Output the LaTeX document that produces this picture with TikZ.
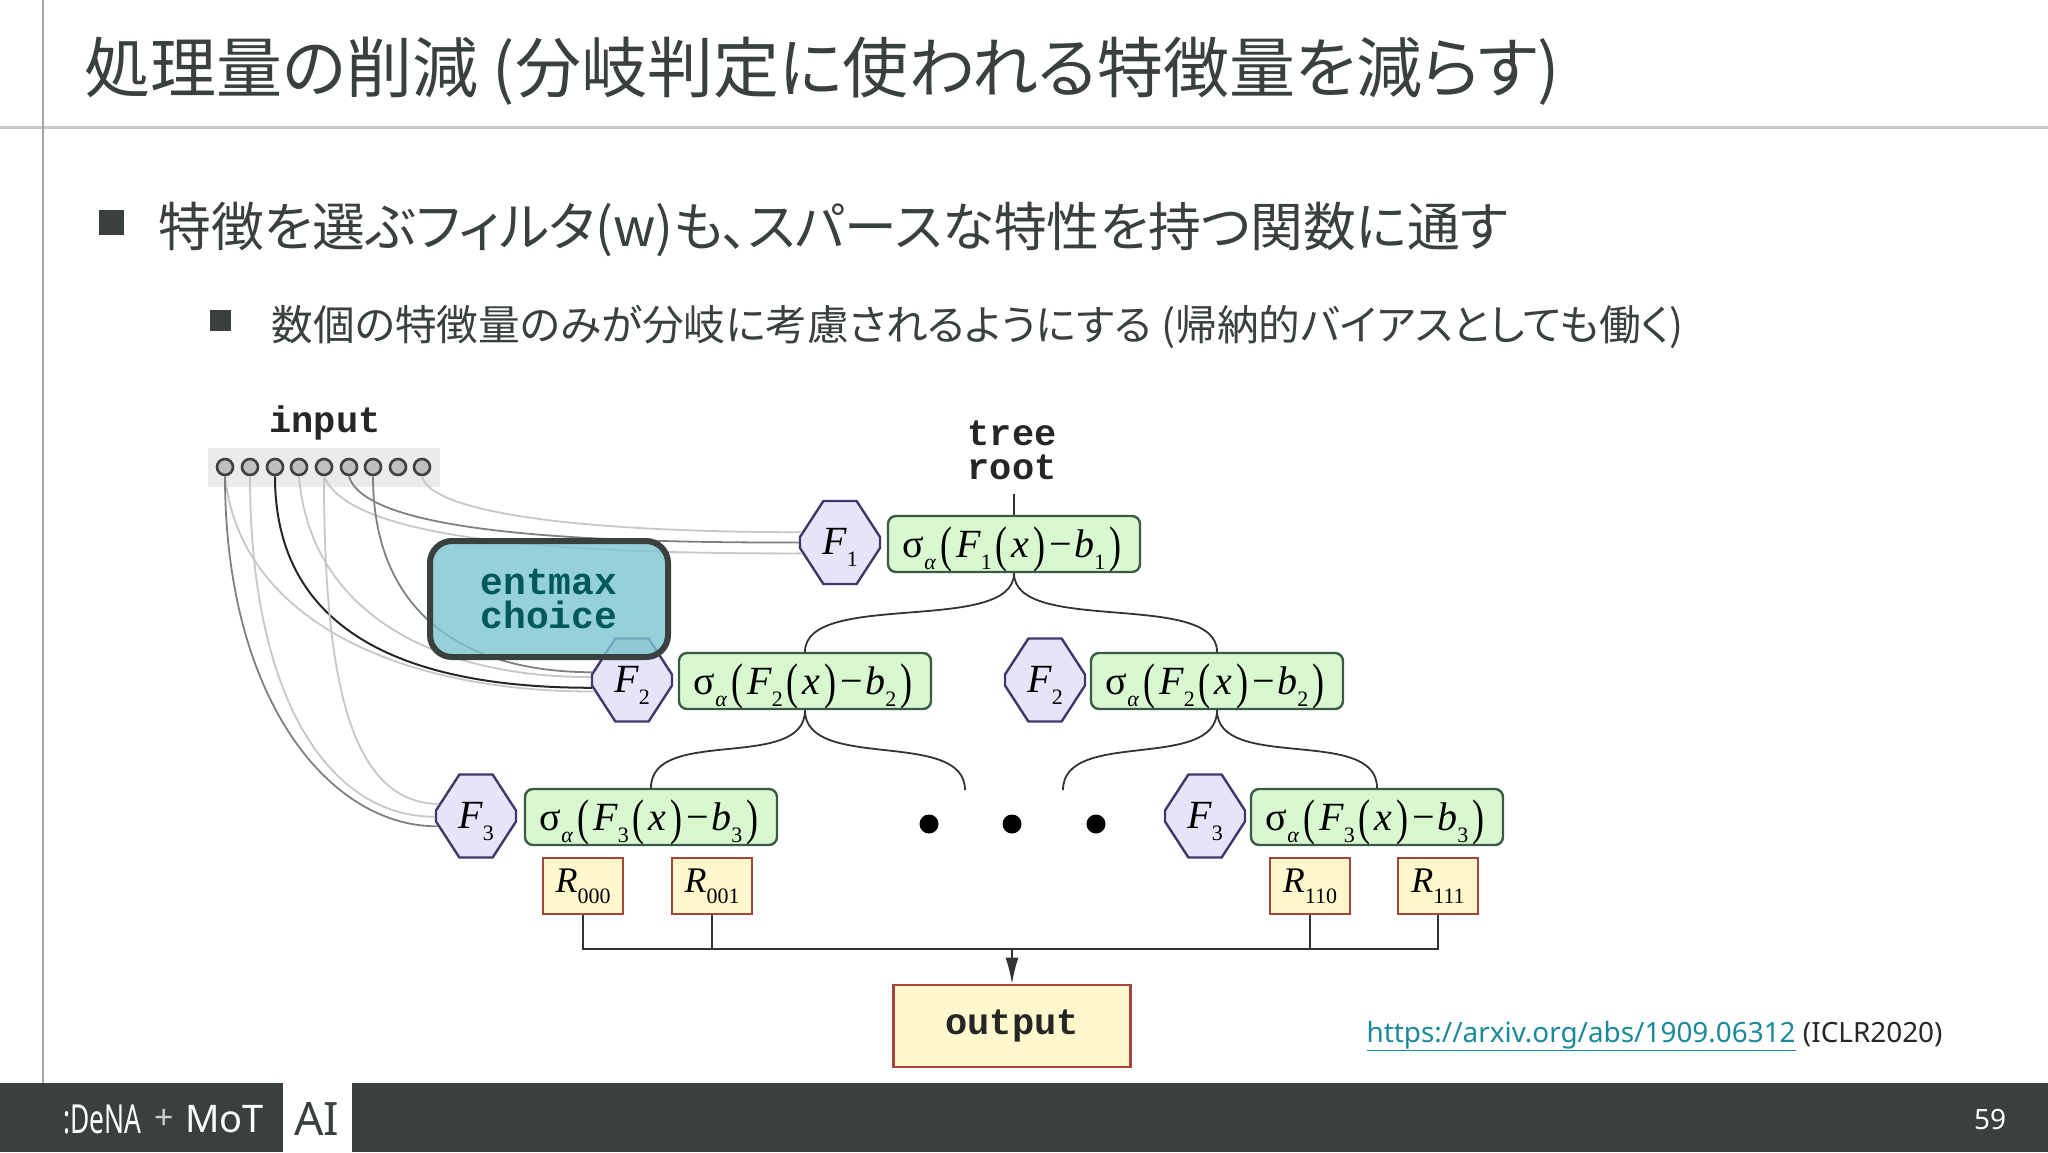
\documentclass[tikz,border=0pt]{standalone}
\usepackage{fontspec}
\setmainfont{Noto Sans}
\newfontfamily\jpfont[RawFeature=+palt]{Noto Sans CJK JP}
\newfontfamily\codefont{Liberation Mono}
\newfontfamily\exprfont{Liberation Serif}
\usetikzlibrary{positioning}
\usetikzlibrary{shapes.misc}
\usetikzlibrary{arrows.meta}
\definecolor{slidegrey}{HTML}{3A3F3F}
\definecolor{linkteal}{HTML}{1A8A9A}
\definecolor{hexfill}{HTML}{E6E4F8}
\definecolor{hexline}{HTML}{41376A}
\definecolor{splitfill}{HTML}{D8F8D0}
\definecolor{splitline}{HTML}{3A5A45}
\definecolor{leaffill}{HTML}{FFF8CC}
\definecolor{leafline}{HTML}{A5453A}
\definecolor{entmaxfill}{HTML}{7CC4CF}
\newcommand{\subpart}[1]{\raisebox{-0.3em}{\fontsize{22}{22}\selectfont #1}}
\newcommand{\tallparen}[1]{\kern4pt\raisebox{-0.12em}{\scalebox{0.9}[1.25]{#1}}\kern4pt}
\newcommand{\hexlabel}[1]{\textit{F}\subpart{#1}}
\newcommand{\splitexpr}[1]{σ\subpart{\textit{α}}\tallparen{(}\textit{F}\subpart{#1}\tallparen{(}\textit{x}\tallparen{)}−\kern2pt\textit{b}\subpart{#1}\tallparen{)}}
\tikzset{
  hexbox/.style={chamfered rectangle,chamfered rectangle angle=33,chamfered rectangle ysep=21pt,chamfered rectangle xsep=40pt,minimum width=80pt,minimum height=83pt,inner sep=0pt,text height=27pt,text depth=3pt,draw=hexline,line width=2.4pt,fill=hexfill,font=\exprfont\fontsize{40}{40}\selectfont},
  splitbox/.style={rectangle,rounded corners=8pt,minimum width=252pt,minimum height=56pt,inner sep=0pt,text height=30pt,text depth=4pt,draw=splitline,line width=2.4pt,fill=splitfill,font=\exprfont\fontsize{40}{40}\selectfont},
  leafbox/.style={rectangle,minimum width=80pt,minimum height=56pt,inner sep=0pt,draw=leafline,line width=2.4pt,fill=leaffill,font=\exprfont\fontsize{36}{38}\selectfont},
  inputdot/.style={circle,minimum size=16pt,inner sep=0pt,draw=black!75,line width=2.6pt,fill=black!25},
  codetext/.style={font=\codefont\bfseries\fontsize{37}{34}\selectfont,align=center,text=black!85},
  wirefaint/.style={draw=black!22,line width=1.8pt},
  wiremid/.style={draw=black!50,line width=1.8pt},
  wiredark/.style={draw=black!85,line width=2pt},
  treeline/.style={draw=black!80,line width=1.8pt},
  dotmark/.style={circle,minimum size=19pt,inner sep=0pt,fill=black},
  bullet/.style={rectangle,inner sep=0pt,fill=slidegrey},
}
\begin{document}
\begin{tikzpicture}[x=1pt,y=-1pt]
\useasboundingbox (0,0) rectangle (2048,1152);
\draw[black!22,line width=3pt] (0,127) -- (2048,127);
\draw[black!35,line width=2pt] (43,0) -- (43,1083);
\node[font=\jpfont\fontsize{66}{70}\selectfont,text=slidegrey,anchor=west] (title) at (81,71) {処理量の削減 (分岐判定に使われる特徴量を減らす)};
\node[bullet,minimum width=25pt,minimum height=25pt] (bulleta) at (111,222) {};
\node[font=\jpfont\fontsize{52.8}{58}\selectfont,text=slidegrey,anchor=west] (linea) at (155,229) {特徴を選ぶフィルタ(w)も、スパースな特性を持つ関数に通す};
\node[bullet,minimum width=21pt,minimum height=21pt] (bulletb) at (220,320) {};
\node[font=\jpfont\fontsize{41.7}{47}\selectfont,text=slidegrey,anchor=west] (lineb) at (268,327) {数個の特徴量のみが分岐に考慮されるようにする (帰納的バイアスとしても働く)};

% input row
\node[codetext] (inputlabel) at (325,423) {input};
\fill[black!8] (208,448) rectangle (440,487);
\node[inputdot] (c1) at (225,467) {};
\node[inputdot] (c2) at (250,467) {};
\node[inputdot] (c3) at (275,467) {};
\node[inputdot] (c4) at (299,467) {};
\node[inputdot] (c5) at (324,467) {};
\node[inputdot] (c6) at (349,467) {};
\node[inputdot] (c7) at (373,467) {};
\node[inputdot] (c8) at (398,467) {};
\node[inputdot] (c9) at (422,467) {};

% tree nodes
\node[codetext] (rootlabel) at (1012,450) {tree\\root};
\coordinate (roottop) at (1014,494);
\node[hexbox] (hexa) at (840,542.5) {\hexlabel{1}};
\node[splitbox] (splita) at (1014,544) {\splitexpr{1}};
\node[hexbox] (hexb) at (632,680) {\hexlabel{2}};
\node[splitbox] (splitb) at (805,681) {\splitexpr{2}};
\node[hexbox] (hexc) at (1045,680) {\hexlabel{2}};
\node[splitbox] (splitc) at (1217,681) {\splitexpr{2}};
\node[hexbox] (hexd) at (476,816) {\hexlabel{3}};
\node[splitbox] (splitd) at (651,817) {\splitexpr{3}};
\node[hexbox] (hexe) at (1205,816) {\hexlabel{3}};
\node[splitbox] (splite) at (1377,817) {\splitexpr{3}};
\node[dotmark] (dota) at (929,824) {};
\node[dotmark] (dotb) at (1012,824) {};
\node[dotmark] (dotc) at (1096,824) {};
\coordinate (freea) at (965,790);
\coordinate (freeb) at (1063,790);

% leaves and output
\node[leafbox] (leafa) at (583,886) {\textit{R}\subpart{000}};
\node[leafbox] (leafb) at (712,886) {\textit{R}\subpart{001}};
\node[leafbox] (leafc) at (1310,886) {\textit{R}\subpart{110}};
\node[leafbox] (leafd) at (1438,886) {\textit{R}\subpart{111}};
\node[rectangle,minimum width=237pt,minimum height=82pt,inner sep=0pt,draw=leafline,line width=2.6pt,fill=leaffill,codetext] (output) at (1012,1026) {output};
\coordinate (busa) at (583,949);
\coordinate (busb) at (712,949);
\coordinate (busc) at (1012,949);
\coordinate (busd) at (1310,949);
\coordinate (buse) at (1438,949);

% feature wires
\draw[wirefaint] (c9.south) .. controls (430,510) and (560,532) .. (hexa.165);
\draw[wiremid] (c6.south) .. controls (365,530) and (560,543) .. (hexa.180);
\draw[wirefaint] (c5.south) .. controls (350,540) and (560,554) .. (hexa.196);
\draw[wiremid] (c7.south) .. controls (373,610) and (460,672) .. (hexb.169);
\draw[wirefaint] (c4.south) .. controls (310,610) and (430,677) .. (hexb.176);
\draw[wiredark] (c3.south) .. controls (275,640) and (420,688) .. (hexb.191);
\draw[wirefaint] (c1.south) .. controls (240,620) and (400,692) .. (hexb.197);
\draw[wiremid] (c1.south) .. controls (225,700) and (330,827) .. (hexd.195);
\draw[wirefaint] (c2.south) .. controls (250,700) and (330,817) .. (hexd.181);
\draw[wirefaint] (c5.south) .. controls (324,680) and (350,803) .. (hexd.162);

% tree wires
\draw[treeline] (roottop) -- (splita.north);
\draw[treeline] (splita.south) .. controls +(0,62) and +(0,-62) .. (splitb.north);
\draw[treeline] (splita.south) .. controls +(0,62) and +(0,-62) .. (splitc.north);
\draw[treeline] (splitb.south) .. controls +(0,62) and +(0,-62) .. (splitd.north);
\draw[treeline] (splitb.south) .. controls +(0,62) and +(0,-62) .. (freea);
\draw[treeline] (splitc.south) .. controls +(0,62) and +(0,-62) .. (freeb);
\draw[treeline] (splitc.south) .. controls +(0,62) and +(0,-62) .. (splite.north);
\draw[treeline] (leafa.south) -- (busa) -- (buse) -- (leafd.south);
\draw[treeline] (leafb.south) -- (busb);
\draw[treeline] (leafc.south) -- (busd);
\draw[treeline,-{Latex[length=26pt,width=13pt]}] (busc) -- (output.north);

% highlight over the picture
\node[rectangle,rounded corners=22pt,minimum width=238pt,minimum height=116pt,inner sep=0pt,draw=slidegrey,line width=6pt,fill=entmaxfill,fill opacity=0.8,draw opacity=1,text opacity=1,font=\codefont\bfseries\fontsize{38}{34}\selectfont,align=center,text=teal!70!black] (entmax) at (549,599) {entmax\\choice};

\node[font=\fontsize{27.9}{30}\selectfont,text=black!85,anchor=west] (cite) at (1363,1036) {\textcolor{linkteal}{\underline{https://arxiv.org/abs/1909.06312}} (ICLR2020)};

% footer
\fill[slidegrey] (0,1083) rectangle (2048,1152);
\fill[white] (283,1083) rectangle (352,1152);
\node[font=\fontsize{40}{44}\bfseries\selectfont,text=white,anchor=west,inner sep=0pt] (dena) at (63,1119) {\scalebox{0.66}[1]{:DeNA}};
\node[font=\fontsize{34}{38}\selectfont,text=black!20,inner sep=0pt] (plus) at (164,1119) {+};
\node[font=\fontsize{38}{40}\bfseries\selectfont,text=white,anchor=west,inner sep=0pt] (mot) at (185,1119) {MoT};
\node[font=\fontsize{46}{50}\selectfont,text=slidegrey,inner sep=0pt] (ailabel) at (317,1119) {AI};
\node[font=\fontsize{28}{32}\selectfont,text=white,inner sep=0pt] (pagenum) at (1990,1119) {59};
\end{tikzpicture}
\end{document}
